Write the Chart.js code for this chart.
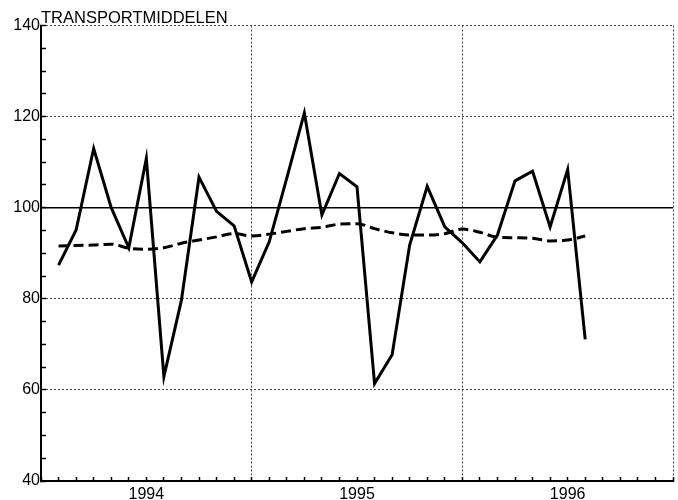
<!DOCTYPE html>
<html>
<head>
<meta charset="utf-8">
<script src="https://cdn.jsdelivr.net/npm/chart.js@4"></script>
<style>
html, body { margin: 0; padding: 0; background: #fff; }
</style>
</head>
<body>
<canvas id="chart" width="678" height="500"></canvas>
<script>
// Monthly index: 1 = Jan 1994 ... 31 = Jul 1996
const months = [1, 2, 3, 4, 5, 6, 7, 8, 9, 10, 11, 12, 13, 14, 15, 16, 17, 18, 19, 20, 21, 22, 23, 24, 25, 26, 27, 28, 29, 30, 31];
const actual = [87.4, 95.1, 113, 100, 91.2, 110.8, 62.9, 79.7, 106.7, 99.2, 96, 83.7, 92.5, 106.5, 120.8, 98.4, 107.5, 104.6, 61.4, 67.7, 91.8, 104.7, 95.8, 92.3, 88.1, 94, 105.9, 108, 95.8, 108.4, 71.1];
const trend = [91.6, 91.7, 91.8, 92, 91.1, 90.9, 91.2, 92.2, 92.9, 93.6, 94.3, 93.8, 94.2, 94.8, 95.4, 95.7, 96.4, 96.5, 95.4, 94.5, 94, 94, 94.3, 95.3, 94.6, 93.5, 93.4, 93.3, 92.7, 92.9, 93.8];
const years = ['1994', '1995', '1996'];
const yearCenters = [6, 18, 30];
const refLevel = 100;

Chart.defaults.font.family = "'Liberation Sans', Arial, sans-serif";
Chart.defaults.color = '#000';

const toPoints = (vals) => vals.map((v, i) => ({ x: months[i], y: v }));

new Chart(document.getElementById('chart'), {
    type: 'line',
    data: {
        datasets: [{
            data: toPoints(actual),
            borderColor: '#000',
            borderWidth: 3,
            pointRadius: 0,
            tension: 0
        }, {
            data: toPoints(trend),
            borderColor: '#000',
            borderWidth: 3,
            borderDash: [10, 5],
            pointRadius: 0,
            cubicInterpolationMode: 'monotone'
        }, {
            data: [{ x: 0, y: refLevel }, { x: 36, y: refLevel }],
            borderColor: '#000',
            borderWidth: 1.5,
            pointRadius: 0
        }]
    },
    options: {
        responsive: false,
        animation: false,
        layout: { padding: { right: 5 } },
        plugins: {
            legend: { display: false },
            tooltip: { enabled: false },
            title: {
                display: true,
                text: 'TRANSPORTMIDDELEN',
                align: 'start',
                fullSize: false,
                color: '#000',
                font: { size: 16.5, weight: 'normal', lineHeight: 1 },
                padding: { top: 10, bottom: -1 }
            }
        },
        scales: {
            x: {
                type: 'linear',
                min: 0,
                max: 36,
                afterFit: (s) => {
                    s.height = 19;
                    s.paddingLeft = 0;
                    s.paddingRight = 0;
                },
                ticks: {
                    stepSize: 1,
                    autoSkip: false,
                    maxRotation: 0,
                    padding: 8,
                    font: { size: 16 },
                    callback: (v) => {
                        const i = yearCenters.indexOf(v);
                        return i >= 0 ? years[i] : '';
                    }
                },
                grid: {
                    color: (ctx) => (ctx.tick && ctx.tick.value > 0 && ctx.tick.value % 12 === 0) ? '#444' : 'rgba(0,0,0,0)',
                    lineWidth: 1,
                    tickLength: -4,
                    tickColor: '#000',
                    tickWidth: 1.5
                },
                border: { color: '#000', width: 2, dash: [2, 2] }
            },
            y: {
                min: 40,
                max: 140,
                afterFit: (s) => { s.width = 41; },
                ticks: {
                    stepSize: 5,
                    padding: 6,
                    font: { size: 16 },
                    callback: (v) => (v % 20 === 0 ? v : '')
                },
                grid: {
                    color: (ctx) => (ctx.tick && ctx.tick.value > 40 && ctx.tick.value % 20 === 0) ? '#444' : 'rgba(0,0,0,0)',
                    lineWidth: 1,
                    tickLength: -5,
                    tickColor: '#000',
                    tickWidth: 1.5
                },
                border: { color: '#000', width: 2, dash: [2, 2] }
            }
        }
    }
});
</script>
</body>
</html>
